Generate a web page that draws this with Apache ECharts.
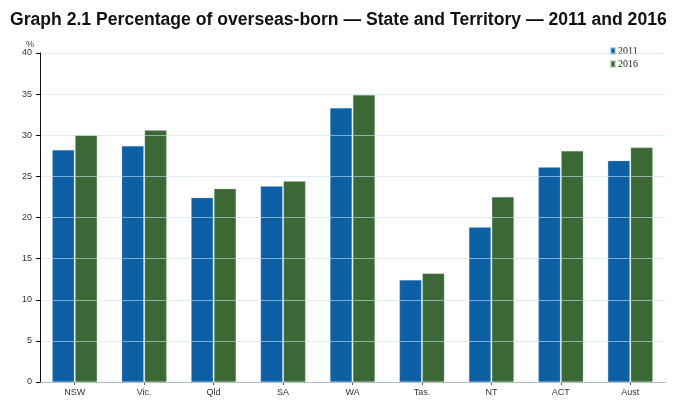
<!DOCTYPE html>
<html><head><meta charset="utf-8">
<script src="https://cdn.jsdelivr.net/npm/echarts@6/dist/echarts.min.js"></script>
<style>html,body{margin:0;padding:0;background:#fff}#c{width:681px;height:408px}</style>
</head><body><div id="c"></div>
<script>
const categories = ['NSW','Vic.','Qld','SA','WA','Tas.','NT','ACT','Aust'];
const values2011 = [28.2, 28.7, 22.4, 23.8, 33.3, 12.4, 18.8, 26.1, 26.9];
const values2016 = [30.0, 30.6, 23.5, 24.4, 34.9, 13.2, 22.5, 28.1, 28.5];
const yTicks = [0,5,10,15,20,25,30,35,40];
const seriesNames = ['2011','2016'];

const chart = echarts.init(document.getElementById('c'), null, {renderer:'canvas'});
chart.setOption({
  animation:false,
  backgroundColor:'#fff',
  title:{
    text:'Graph 2.1 Percentage of overseas-born — State and Territory — 2011 and 2016',
    left:5, top:6,
    textStyle:{fontFamily:'Liberation Sans, Arial, sans-serif', fontWeight:'bold', fontSize:17.6, color:'#111'}
  },
  legend:{
    orient:'vertical', right:38, top:41, itemWidth:4, itemHeight:6, itemGap:3,
    icon:'rect', data:seriesNames,
    textStyle:{fontFamily:'Liberation Serif, serif', fontSize:10, color:'#222', padding:[0,0,0,-2]}
  },
  grid:{left:40, right:16, top:53, bottom:26},
  xAxis:{
    type:'category', data:categories,
    axisLine:{lineStyle:{color:'#888', width:1}},
    axisTick:{show:true, alignWithLabel:true, length:3, lineStyle:{color:'#555'}},
    axisLabel:{fontFamily:'Liberation Sans, Arial, sans-serif', fontSize:9, color:'#333', margin:6}
  },
  yAxis:{
    type:'value', min:yTicks[0], max:yTicks[yTicks.length-1], interval:5,
    name:'%', nameLocation:'end', nameGap:4,
    nameTextStyle:{fontFamily:'Liberation Sans, Arial, sans-serif', fontSize:9, color:'#333', align:'right', padding:[0,6,0,0]},
    z:5,
    axisLine:{show:true, lineStyle:{color:'#111', width:1}},
    axisTick:{show:true, length:4, inside:false, lineStyle:{color:'#111'}},
    axisLabel:{fontFamily:'Liberation Sans, Arial, sans-serif', fontSize:9, color:'#333', margin:8},
    splitLine:{show:true, lineStyle:{color:'rgba(200,225,240,0.6)', width:1}}
  },
  series:[
    {name:seriesNames[0], type:'bar', data:values2011, barWidth:22, barGap:'4%',
     itemStyle:{color:'#0d5fa6', borderColor:'rgba(140,190,220,0.6)', borderWidth:0.5}, z:2},
    {name:seriesNames[1], type:'bar', data:values2016, barWidth:22, barGap:'4%',
     itemStyle:{color:'#3b6936', borderColor:'rgba(170,190,170,0.6)', borderWidth:0.5}, z:2}
  ]
});
</script></body></html>
